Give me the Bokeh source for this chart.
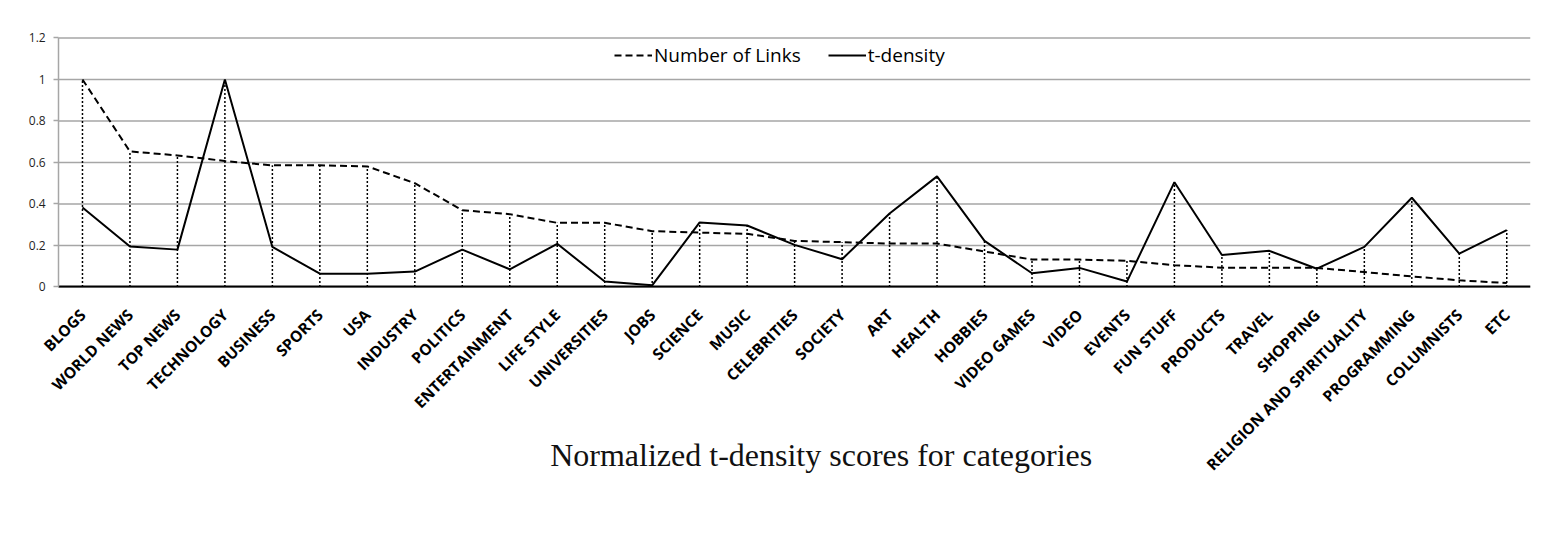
import math
from bokeh.plotting import figure
from bokeh.models import (ColumnDataSource, Range1d, FixedTicker,
                          NumeralTickFormatter, Legend, LegendItem, Label)
from bokeh.embed import file_html
from bokeh.resources import INLINE

categories = ["BLOGS", "WORLD NEWS", "TOP NEWS", "TECHNOLOGY", "BUSINESS", "SPORTS",
              "USA", "INDUSTRY", "POLITICS", "ENTERTAINMENT", "LIFE STYLE", "UNIVERSITIES",
              "JOBS", "SCIENCE", "MUSIC", "CELEBRITIES", "SOCIETY", "ART", "HEALTH",
              "HOBBIES", "VIDEO GAMES", "VIDEO", "EVENTS", "FUN STUFF", "PRODUCTS",
              "TRAVEL", "SHOPPING", "RELIGION AND SPIRITUALITY", "PROGRAMMING",
              "COLUMNISTS", "ETC"]

number_of_links = [1.0, 0.653, 0.634, 0.607, 0.586, 0.586, 0.581, 0.500, 0.370, 0.351,
                   0.309, 0.309, 0.269, 0.262, 0.256, 0.222, 0.216, 0.209, 0.209, 0.171,
                   0.132, 0.132, 0.126, 0.105, 0.093, 0.093, 0.092, 0.072, 0.051, 0.032,
                   0.019]

t_density = [0.383, 0.195, 0.180, 1.0, 0.193, 0.064, 0.064, 0.074, 0.180, 0.085,
             0.208, 0.026, 0.008, 0.311, 0.296, 0.203, 0.134, 0.354, 0.533, 0.222,
             0.066, 0.092, 0.026, 0.505, 0.154, 0.174, 0.088, 0.193, 0.430, 0.161,
             0.274]

y_ticks = [0, 0.2, 0.4, 0.6, 0.8, 1.0, 1.2]
legend_labels = ["Number of Links", "t-density"]
title_text = "Normalized t-density scores for categories"

n = len(categories)
idx = list(range(n))
drop_top = [max(a, b) for a, b in zip(number_of_links, t_density)]
src = ColumnDataSource(dict(x=idx, links=number_of_links, td=t_density,
                            top=drop_top, zero=[0] * n))

# category i sits at x = i; the band of the chart runs from -0.5 to n - 0.5.
band_left, band_right = -0.5, n - 0.5

# The frame extends left, above and below the value area so that the tick
# labels, the rotated category labels and the caption are drawn inside it.
p = figure(x_range=Range1d(-1.2, band_right), y_range=Range1d(-1.0, 1.26),
           width=1540, height=500, output_backend="svg", toolbar_location=None,
           min_border_left=25, min_border_right=10, min_border_top=25,
           min_border_bottom=6)
p.outline_line_color = None
p.background_fill_color = "white"
p.border_fill_color = "white"

# horizontal grid lines limited to the category band
p.xgrid.visible = False
p.ygrid.visible = False
p.segment(x0=[band_left] * len(y_ticks), x1=[band_right] * len(y_ticks),
          y0=y_ticks, y1=y_ticks, line_color="#a6a6a6", line_width=1.5)

# y axis pinned at the left edge of the band
p.yaxis.fixed_location = band_left
p.yaxis.ticker = FixedTicker(ticks=y_ticks)
p.yaxis.bounds = (y_ticks[0], y_ticks[-1])
p.yaxis.formatter = NumeralTickFormatter(format="0.[0]")
p.yaxis.axis_line_color = "#a6a6a6"
p.yaxis.axis_line_width = 1.5
p.yaxis.major_tick_line_color = "#a6a6a6"
p.yaxis.major_tick_line_width = 1.5
p.yaxis.major_tick_out = 5
p.yaxis.major_tick_in = 0
p.yaxis.minor_tick_line_color = None
p.yaxis.major_label_text_font = "Open Sans"
p.yaxis.major_label_text_font_size = "12px"
p.yaxis.major_label_text_color = "#1f1f1f"
p.yaxis.major_label_standoff = 8

# x axis pinned at zero, category names as tick labels
p.xaxis.fixed_location = 0
p.xaxis.bounds = (band_left, band_right)
p.xaxis.ticker = FixedTicker(ticks=idx)
p.xaxis.major_label_overrides = {i: c for i, c in zip(idx, categories)}
p.xaxis.axis_line_color = "black"
p.xaxis.axis_line_width = 2
p.xaxis.major_tick_line_color = None
p.xaxis.minor_tick_line_color = None
p.xaxis.major_tick_out = 0
p.xaxis.major_tick_in = 0
p.xaxis.major_label_orientation = math.pi / 4
p.xaxis.major_label_text_font = "Open Sans"
p.xaxis.major_label_text_font_style = "bold"
p.xaxis.major_label_text_font_size = "15.5px"
p.xaxis.major_label_text_color = "black"
p.xaxis.major_label_standoff = 25

# drop lines
p.segment(x0="x", y0="zero", x1="x", y1="top", source=src,
          line_color="black", line_width=1.5, line_dash="2 2")

r_links = p.line("x", "links", source=src, line_color="black", line_width=2,
                 line_dash="7 4")
r_td = p.line("x", "td", source=src, line_color="black", line_width=2)

legend = Legend(items=[LegendItem(label=legend_labels[0], renderers=[r_links]),
                       LegendItem(label=legend_labels[1], renderers=[r_td])],
                orientation="horizontal", location=(589, 426),
                border_line_color=None, background_fill_alpha=0,
                padding=0, margin=0, glyph_width=38, label_standoff=2, spacing=27,
                label_text_font="Open Sans", label_text_font_size="19px",
                label_text_color="black")
p.add_layout(legend)

p.add_layout(Label(x=15.56, y=-0.81, text=title_text, text_align="center",
                   text_baseline="alphabetic", text_font="Liberation Serif",
                   text_font_size="32px", text_color="#111111"))

open("out.html", "w").write(file_html(p, INLINE))
